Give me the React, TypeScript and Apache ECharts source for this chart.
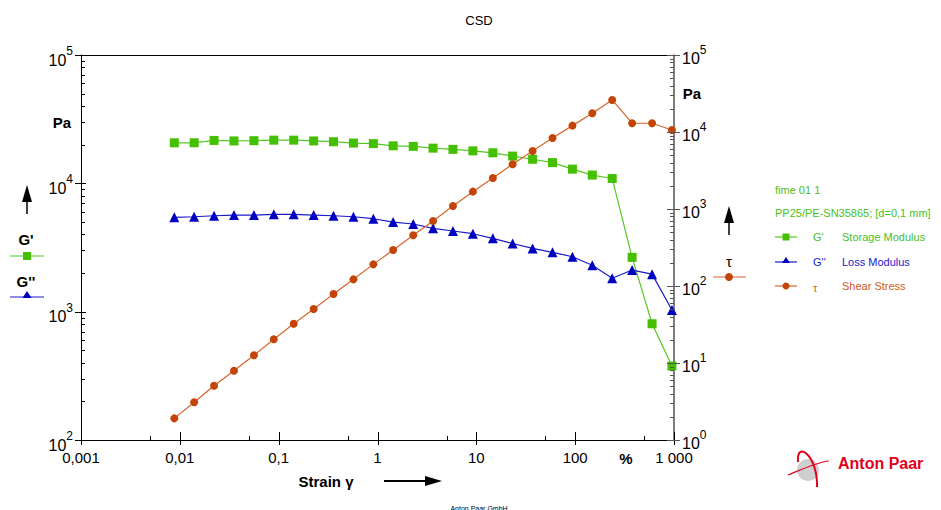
import React, { useEffect, useRef } from "react";
import * as echarts from "echarts";

// ---- data ----
const strain = [
  0.00879, 0.01396, 0.0222, 0.0353, 0.0562, 0.0893, 0.142, 0.226, 0.359, 0.571,
  0.908, 1.44, 2.3, 3.65, 5.8, 9.23, 14.7, 23.3, 37.1, 59.0, 93.8, 149, 237, 377, 600, 953,
];
const storageModulus = [
  20700, 20700, 21600, 21400, 21500, 21700, 21700, 21400, 21100, 20600,
  20400, 19600, 19400, 18800, 18400, 17900, 17300, 16300, 15400, 14500,
  12900, 11600, 10900, 2650, 805, 377,
];
const lossModulus = [
  5430, 5490, 5590, 5660, 5660, 5730, 5730, 5660, 5590, 5490,
  5300, 4990, 4820, 4460, 4250, 4050, 3730, 3400, 3110, 2900,
  2680, 2300, 1820, 2110, 1960, 1030,
];
const shearStress = [
  1.91, 3.09, 5.07, 7.94, 12.6, 20.3, 32.4, 50.2, 78.7, 122,
  191, 294, 455, 698, 1094, 1680, 2530, 3810, 5660, 8350,
  12100, 17500, 26100, 13000, 13000, 10600,
];

const xMajorTicks = [0.001, 0.01, 0.1, 1, 10, 100, 1000];
const xMinorTicks = [0.005, 0.05, 0.5, 5, 50, 500];
const xTickLabels = ["0,001", "0,01", "0,1", "1", "10", "100", "1 000"];
const leftMajorTicks = [100, 1000, 10000, 100000];
const leftMinorTicks = [
  200, 300, 400, 500, 600, 700, 800, 900,
  2000, 3000, 4000, 5000, 6000, 7000, 8000, 9000,
  20000, 30000, 40000, 50000, 60000, 70000, 80000, 90000,
];
const rightMajorTicks = [1, 10, 100, 1000, 10000, 100000];
const rightMinorTicks = [
  2, 3, 4, 5, 6, 7, 8, 9,
  20, 30, 40, 50, 60, 70, 80, 90,
  200, 300, 400, 500, 600, 700, 800, 900,
  2000, 3000, 4000, 5000, 6000, 7000, 8000, 9000,
  20000, 30000, 40000, 50000, 60000, 70000, 80000, 90000,
];

const FONT = "'Liberation Sans', Arial, Helvetica, sans-serif";
const GREEN = "#44c000";
const GREEN_LINE = "#55c825";
const BLUE = "#0000c0";
const BLUE_LINE = "#1a1acc";
const ORANGE = "#c44408";
const ORANGE_LINE = "#d8652a";

const tickSeries = (
  values: number[],
  axis: "x" | "left" | "right",
  inLen: number,
  outLen: number,
  color: string
) => ({
  type: "custom",
  xAxisIndex: 0,
  yAxisIndex: axis === "right" ? 1 : 0,
  silent: true,
  clip: false,
  z: 5,
  data: values.map((v) => (axis === "x" ? [v, 100] : axis === "left" ? [0.001, v] : [1000, v])),
  renderItem: (params: any, api: any) => {
    const p = api.coord([api.value(0), api.value(1)]);
    let x1, y1, x2, y2;
    if (axis === "x") {
      x1 = x2 = Math.round(p[0]) + 0.5;
      y1 = p[1] - inLen;
      y2 = p[1] + outLen;
    } else if (axis === "left") {
      y1 = y2 = Math.round(p[1]) + 0.5;
      x1 = p[0] - outLen;
      x2 = p[0] + inLen;
    } else {
      y1 = y2 = Math.round(p[1]) + 0.5;
      x1 = p[0] - inLen;
      x2 = p[0] + outLen;
    }
    return {
      type: "line",
      shape: { x1, y1, x2, y2 },
      style: { stroke: color, lineWidth: 1 },
    };
  },
});

const powLabel = (v: number) => `{b|10}{e|${Math.round(Math.log10(v))}}`;
const leftRich = {
  b: { fontSize: 16, fontFamily: FONT, color: "#000", padding: [10, 0, 0, 0] },
  e: { fontSize: 12, fontFamily: FONT, color: "#000", verticalAlign: "top", padding: [3, 0, 0, 0] },
};
const rightRich = {
  b: { fontSize: 16, fontFamily: FONT, color: "#000", padding: [6, 0, 0, 0] },
  e: { fontSize: 12, fontFamily: FONT, color: "#000", verticalAlign: "top", padding: [0, 0, 0, 0] },
};

export default function App() {
  const ref = useRef<HTMLDivElement>(null);
  useEffect(() => {
    if (!ref.current) return;
    const chart = echarts.init(ref.current, undefined, { renderer: "svg" });
    const pairs = (ys: number[]) => strain.map((x, i) => [x, ys[i]]);
    const option: any = {
      animation: false,
      backgroundColor: "#fff",
      textStyle: { fontFamily: FONT },
      grid: { left: 81, top: 55, width: 593, height: 385, containLabel: false },
      xAxis: {
        type: "log",
        logBase: 10,
        min: 0.001,
        max: 1000,
        interval: 1,
        axisLine: { lineStyle: { color: "#000", width: 1 } },
        axisTick: { show: false },
        splitLine: { show: false },
        axisLabel: {
          margin: 10,
          fontSize: 15,
          color: "#000",
          fontFamily: FONT,
          showMinLabel: true,
          showMaxLabel: true,
          formatter: (v: number) => xTickLabels[Math.round(Math.log10(v)) + 3] ?? "",
        },
      },
      yAxis: [
        {
          type: "log",
          logBase: 10,
          min: 100,
          max: 100000,
          interval: 1,
          position: "left",
          axisLine: { show: true, lineStyle: { color: "#000", width: 1 } },
          axisTick: { show: false },
          splitLine: { show: false },
          axisLabel: { margin: 8, formatter: powLabel, rich: leftRich, showMinLabel: true, showMaxLabel: true },
        },
        {
          type: "log",
          logBase: 10,
          min: 1,
          max: 100000,
          interval: 1,
          position: "right",
          axisLine: { show: true, lineStyle: { color: "#555", width: 1.5 } },
          axisTick: { show: false },
          splitLine: { show: false },
          axisLabel: { margin: 8, formatter: powLabel, rich: rightRich, showMinLabel: true, showMaxLabel: true },
        },
      ],
      series: [
        tickSeries(xMajorTicks, "x", 8, 5, "#000"),
        tickSeries(xMinorTicks, "x", 4, 0, "#000"),
        tickSeries(leftMajorTicks, "left", 5, 6, "#000"),
        tickSeries(leftMinorTicks, "left", 4, 0, "#000"),
        tickSeries(rightMajorTicks, "right", 7, 6, "#555"),
        tickSeries(rightMinorTicks, "right", 4, 0, "#555"),
        {
          name: "G'",
          type: "line",
          yAxisIndex: 0,
          data: pairs(storageModulus),
          symbol: "rect",
          symbolSize: 9,
          showSymbol: true,
          itemStyle: { color: GREEN },
          lineStyle: { color: GREEN_LINE, width: 1.2 },
          z: 3,
        },
        {
          name: "G''",
          type: "line",
          yAxisIndex: 0,
          data: pairs(lossModulus),
          symbol: "triangle",
          symbolSize: 10,
          showSymbol: true,
          itemStyle: { color: BLUE },
          lineStyle: { color: BLUE_LINE, width: 1.2 },
          z: 3,
        },
        {
          name: "τ",
          type: "line",
          yAxisIndex: 1,
          data: pairs(shearStress),
          symbol: "circle",
          symbolSize: 8,
          showSymbol: true,
          itemStyle: { color: ORANGE },
          lineStyle: { color: ORANGE_LINE, width: 1.2 },
          z: 3,
        },
      ],
      graphic: [
        // frame top line
        { type: "line", shape: { x1: 81, y1: 55.5, x2: 674, y2: 55.5 }, style: { stroke: "#000", lineWidth: 1 } },
        // title
        { type: "text", x: 479, y: 20, style: { text: "CSD", font: `13px ${FONT}`, fill: "#000", align: "center", verticalAlign: "middle" } },
        // Pa labels
        { type: "text", x: 62, y: 122, style: { text: "Pa", font: `bold 15px ${FONT}`, fill: "#000", align: "center", verticalAlign: "middle" } },
        { type: "text", x: 692, y: 93, style: { text: "Pa", font: `bold 15px ${FONT}`, fill: "#000", align: "center", verticalAlign: "middle" } },
        // x axis title
        { type: "text", x: 326, y: 481, style: { text: "Strain γ", font: `bold 15px ${FONT}`, fill: "#000", align: "center", verticalAlign: "middle" } },
        { type: "line", shape: { x1: 384, y1: 481, x2: 428, y2: 481 }, style: { stroke: "#000", lineWidth: 2 } },
        { type: "polygon", shape: { points: [[442, 481], [425, 476], [425, 486]] }, style: { fill: "#000" } },
        { type: "text", x: 626, y: 458, style: { text: "%", font: `bold 15px ${FONT}`, fill: "#000", align: "center", verticalAlign: "middle" } },
        // left legend
        { type: "line", shape: { x1: 27, y1: 200, x2: 27, y2: 214 }, style: { stroke: "#000", lineWidth: 1.5 } },
        { type: "polygon", shape: { points: [[27, 185], [22, 202], [32, 202]] }, style: { fill: "#000" } },
        { type: "text", x: 26, y: 239, style: { text: "G'", font: `bold 15px ${FONT}`, fill: "#000", align: "center", verticalAlign: "middle" } },
        { type: "line", shape: { x1: 10, y1: 256, x2: 44, y2: 256 }, style: { stroke: GREEN_LINE, lineWidth: 1.2 } },
        { type: "rect", shape: { x: 23, y: 252, width: 8, height: 8 }, style: { fill: GREEN } },
        { type: "text", x: 26, y: 281, style: { text: "G''", font: `bold 15px ${FONT}`, fill: "#000", align: "center", verticalAlign: "middle" } },
        { type: "line", shape: { x1: 10, y1: 297, x2: 44, y2: 297 }, style: { stroke: BLUE_LINE, lineWidth: 1.2 } },
        { type: "polygon", shape: { points: [[27, 291], [22.5, 298], [31.5, 298]] }, style: { fill: BLUE } },
        // right axis legend
        { type: "line", shape: { x1: 729, y1: 220, x2: 729, y2: 235 }, style: { stroke: "#000", lineWidth: 1.5 } },
        { type: "polygon", shape: { points: [[729, 206], [724, 223], [734, 223]] }, style: { fill: "#000" } },
        { type: "text", x: 729, y: 261, style: { text: "τ", font: `15px ${FONT}`, fill: "#000", align: "center", verticalAlign: "middle" } },
        { type: "line", shape: { x1: 713, y1: 277, x2: 746, y2: 277 }, style: { stroke: ORANGE_LINE, lineWidth: 1.2 } },
        { type: "circle", shape: { cx: 729, cy: 277, r: 4 }, style: { fill: ORANGE } },
        // legend block
        { type: "text", x: 775, y: 190, style: { text: "fime 01 1", font: `11px ${FONT}`, fill: "#48c01c", verticalAlign: "middle" } },
        { type: "text", x: 775, y: 213, style: { text: "PP25/PE-SN35865; [d=0,1 mm]", font: `11px ${FONT}`, fill: "#48c01c", verticalAlign: "middle" } },
        { type: "line", shape: { x1: 775, y1: 237, x2: 797, y2: 237 }, style: { stroke: GREEN_LINE, lineWidth: 1.2 } },
        { type: "rect", shape: { x: 782.5, y: 233.5, width: 7, height: 7 }, style: { fill: GREEN } },
        { type: "text", x: 813, y: 237, style: { text: "G'", font: `11px ${FONT}`, fill: "#48c01c", verticalAlign: "middle" } },
        { type: "text", x: 842, y: 237, style: { text: "Storage Modulus", font: `11px ${FONT}`, fill: "#48c01c", verticalAlign: "middle" } },
        { type: "line", shape: { x1: 775, y1: 262, x2: 797, y2: 262 }, style: { stroke: BLUE_LINE, lineWidth: 1.2 } },
        { type: "polygon", shape: { points: [[786, 257], [782, 263], [790, 263]] }, style: { fill: BLUE } },
        { type: "text", x: 813, y: 262, style: { text: "G''", font: `11px ${FONT}`, fill: "#1a1acc", verticalAlign: "middle" } },
        { type: "text", x: 842, y: 262, style: { text: "Loss Modulus", font: `11px ${FONT}`, fill: "#1a1acc", verticalAlign: "middle" } },
        { type: "line", shape: { x1: 775, y1: 286, x2: 797, y2: 286 }, style: { stroke: ORANGE_LINE, lineWidth: 1.2 } },
        { type: "circle", shape: { cx: 786, cy: 286, r: 3.5 }, style: { fill: ORANGE } },
        { type: "text", x: 813, y: 288, style: { text: "τ", font: `11px ${FONT}`, fill: "#d05a20", verticalAlign: "middle" } },
        { type: "text", x: 842, y: 286, style: { text: "Shear Stress", font: `11px ${FONT}`, fill: "#d05a20", verticalAlign: "middle" } },
        // logo
        { type: "circle", shape: { cx: 808, cy: 470, r: 11 }, style: { fill: "#cfcfcf" } },
        { type: "bezierCurve", shape: { x1: 798, y1: 462, x2: 817, y2: 487, cpx1: 796, cpy1: 440, cpx2: 818, cpy2: 455 }, style: { stroke: "#e2001a", lineWidth: 2, fill: "none" } },
        { type: "bezierCurve", shape: { x1: 788, y1: 475, x2: 829, y2: 461, cpx1: 805, cpy1: 468, cpx2: 818, cpy2: 462 }, style: { stroke: "#e2001a", lineWidth: 1.2, fill: "none" } },
        { type: "text", x: 838, y: 463, style: { text: "Anton Paar", font: `bold 16px ${FONT}`, fill: "#e2001a", verticalAlign: "middle" } },
        { type: "text", x: 479, y: 508, style: { text: "Anton Paar GmbH", font: `7px ${FONT}`, fill: "#000", align: "center", verticalAlign: "middle" } },
      ],
    };
    chart.setOption(option);
    return () => chart.dispose();
  }, []);
  return <div ref={ref} style={{ position: "absolute", left: 0, top: 0, width: 941, height: 510 }} />;
}
